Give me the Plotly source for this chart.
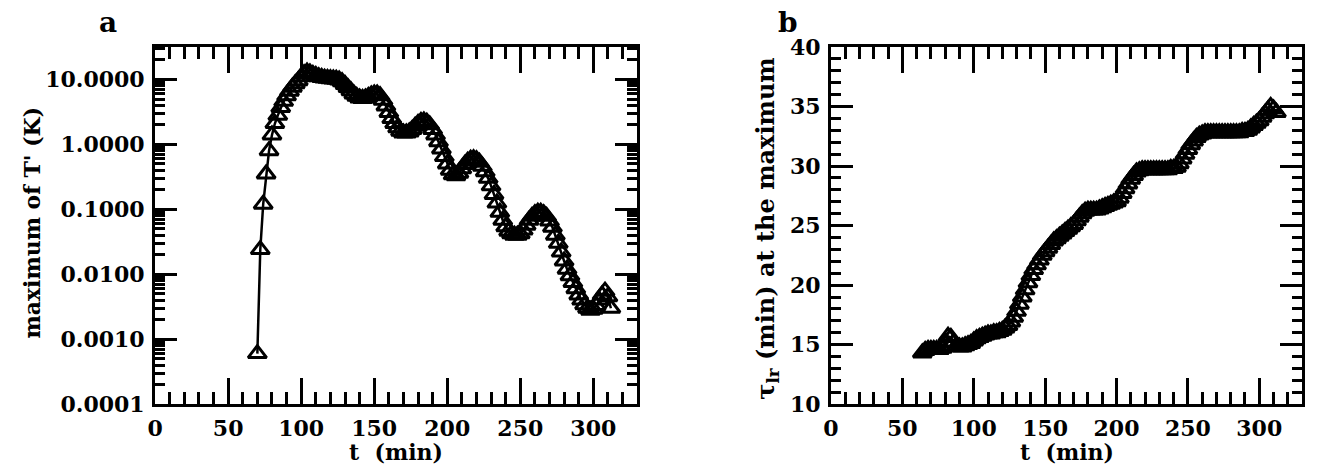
import plotly.graph_objects as go

# ---- Panel a data: maximum of T' (K) vs t (min) ----
t_a = [70, 72, 74, 76, 78, 80, 82, 84, 86, 88, 90, 92, 94, 96, 98, 100, 102, 104, 106, 108,
       110, 112, 114, 116, 118, 120, 122, 124, 126, 128, 130, 132, 134, 136, 138, 140, 142, 144,
       146, 148, 150, 152, 154, 156, 158, 160, 162, 164, 166, 168, 170, 172, 174, 176, 178, 180,
       182, 184, 186, 188, 190, 192, 194, 196, 198, 200, 202, 204, 206, 208, 210, 212, 214, 216,
       218, 220, 222, 224, 226, 228, 230, 232, 234, 236, 238, 240, 242, 244, 246, 248, 250, 252,
       254, 256, 258, 260, 262, 264, 266, 268, 270, 272, 274, 276, 278, 280, 282, 284, 286, 288,
       290, 292, 294, 296, 298, 300, 302, 304, 306, 308, 310, 312]
tmax_a = [0.0006, 0.024, 0.12, 0.35, 0.8, 1.4, 2.1, 2.8, 3.7, 4.6, 5.6, 6.6, 7.6, 8.6, 9.6, 11.0,
          12.3, 13.0, 12.6, 12.0, 11.5, 11.0, 10.7, 10.5, 10.4, 10.3, 10.2, 10.1, 9.8, 9.2, 8.4,
          7.5, 6.7, 6.0, 5.5, 5.2, 5.1, 5.2, 5.5, 5.8, 6.0, 6.0, 5.6, 4.8, 3.9, 3.1, 2.5, 2.1, 1.8,
          1.6, 1.5, 1.5, 1.55, 1.7, 1.9, 2.1, 2.25, 2.3, 2.2, 2.0, 1.7, 1.4, 1.1, 0.85, 0.65, 0.5,
          0.4, 0.34, 0.33, 0.36, 0.42, 0.49, 0.55, 0.59, 0.6, 0.58, 0.53, 0.46, 0.38, 0.3, 0.23,
          0.17, 0.125, 0.09, 0.068, 0.054, 0.046, 0.042, 0.04, 0.04, 0.042, 0.048, 0.057, 0.068,
          0.078, 0.086, 0.09, 0.09, 0.086, 0.078, 0.066, 0.053, 0.04, 0.03, 0.022, 0.016, 0.012,
          0.0095, 0.0075, 0.006, 0.0048, 0.004, 0.0034, 0.003, 0.0028, 0.0029, 0.0033, 0.004,
          0.0048, 0.0055, 0.0045, 0.003]

# ---- Panel b data: tau_lr (min) at the maximum vs t (min) ----
t_b = [64, 66, 68, 70, 72, 74, 76, 78, 80, 82, 84, 86, 88, 90, 92, 94, 96, 98, 100, 102, 104,
       106, 108, 110, 112, 114, 116, 118, 120, 122, 124, 126, 128, 130, 132, 134, 136, 138, 140,
       142, 144, 146, 148, 150, 152, 154, 156, 158, 160, 162, 164, 166, 168, 170, 172, 174, 176,
       178, 180, 182, 184, 186, 188, 190, 192, 194, 196, 198, 200, 202, 204, 206, 208, 210, 212,
       214, 216, 218, 220, 222, 224, 226, 228, 230, 232, 234, 236, 238, 240, 242, 244, 246, 248,
       250, 252, 254, 256, 258, 260, 262, 264, 266, 268, 270, 272, 274, 276, 278, 280, 282, 284,
       286, 288, 290, 292, 294, 296, 298, 300, 302, 304, 306, 308, 310, 312, 314]
tau_b = [14.3, 14.5, 14.6, 14.6, 14.6, 14.6, 14.6, 14.7, 15.2, 15.7, 15.6, 15.2, 14.9, 14.8,
         14.8, 14.9, 15.0, 15.1, 15.3, 15.5, 15.6, 15.7, 15.8, 15.9, 15.9, 16.0, 16.0, 16.1,
         16.2, 16.4, 16.6, 16.9, 17.3, 17.8, 18.4, 19.0, 19.6, 20.2, 20.8, 21.3, 21.7, 22.1,
         22.5, 22.8, 23.1, 23.4, 23.7, 23.9, 24.1, 24.3, 24.5, 24.7, 24.9, 25.1, 25.4, 25.7,
         26.0, 26.2, 26.3, 26.3, 26.3, 26.3, 26.4, 26.5, 26.6, 26.7, 26.8, 26.9, 27.0, 27.3,
         27.7, 28.1, 28.5, 28.9, 29.2, 29.5, 29.6, 29.7, 29.7, 29.7, 29.7, 29.7, 29.7, 29.7,
         29.7, 29.7, 29.7, 29.8, 29.8, 29.9, 30.2, 30.6, 31.0, 31.4, 31.8, 32.1, 32.4, 32.6,
         32.7, 32.8, 32.8, 32.8, 32.8, 32.8, 32.8, 32.8, 32.8, 32.8, 32.8, 32.8, 32.8, 32.8,
         32.9, 32.9, 33.0, 33.2, 33.4, 33.6, 33.8, 34.1, 34.4, 34.7, 35.0, 34.8, 34.5]

x_ticks = [0, 50, 100, 150, 200, 250, 300]
ya_ticks = [0.0001, 0.001, 0.01, 0.1, 1, 10]
ya_text = ["0.0001", "0.0010", "0.0100", "0.1000", "1.0000", "10.0000"]
yb_ticks = [10, 15, 20, 25, 30, 35, 40]

FONT = "DejaVu Serif"
W, H = 1317, 471

fig = go.Figure()
marker = dict(symbol="triangle-up-open", size=16, color="black", line=dict(width=3, color="black"))
fig.add_trace(go.Scatter(x=t_a, y=tmax_a, mode="lines+markers", marker=marker,
                         line=dict(color="black", width=2.5), xaxis="x", yaxis="y", showlegend=False))
fig.add_trace(go.Scatter(x=t_b, y=tau_b, mode="lines+markers", marker=marker,
                         line=dict(color="black", width=2.5), xaxis="x2", yaxis="y2", showlegend=False))
# empty traces so the overlay axes that carry the minor ticks get drawn
fig.add_trace(go.Scatter(x=[], y=[], mode="markers", xaxis="x3", yaxis="y3", showlegend=False,
                         hoverinfo="skip"))
fig.add_trace(go.Scatter(x=[], y=[], mode="markers", xaxis="x4", yaxis="y4", showlegend=False,
                         hoverinfo="skip"))

tickfont = dict(family=FONT, size=22, color="black", weight="bold")
xa_dom = [148 / W, 633 / W]
xb_dom = [828 / W, 1302 / W]
ytop = 1 - 36 / H
ybot = 1 - 414 / H
ydom = [ybot, ytop]

major_common = dict(ticks="inside", tickwidth=3, tickcolor="black", showline=True, linewidth=3,
                    linecolor="black", mirror="ticks", showgrid=False, zeroline=False,
                    tickfont=tickfont)
minor_common = dict(ticks="inside", tickwidth=3, tickcolor="black", showline=False,
                    mirror="ticks", showgrid=False, zeroline=False, showticklabels=False)

# minor tick positions for the log axis (2..9 in each decade)
ya_minor = [m * 10.0 ** e for e in range(-4, 1) for m in range(2, 10)] + [20.0, 30.0]

fig.update_layout(
    autosize=True, margin=dict(l=0, r=0, t=0, b=0),
    paper_bgcolor="white", plot_bgcolor="white",
    xaxis=dict(domain=xa_dom, anchor="y", range=[0, 330], tickvals=x_ticks, ticklen=26,
               ticklabelstandoff=2, **major_common),
    yaxis=dict(domain=ydom, anchor="x", type="log", range=[-4, 1.5], tickvals=ya_ticks,
               ticktext=ya_text, ticklen=22, ticklabelstandoff=3, **major_common),
    xaxis2=dict(domain=xb_dom, anchor="y2", range=[0, 330], tickvals=x_ticks, ticklen=26,
                ticklabelstandoff=2, **major_common),
    yaxis2=dict(domain=ydom, anchor="x2", range=[10, 40], tickvals=yb_ticks, ticklen=22,
                ticklabelstandoff=3, **major_common),
    xaxis3=dict(overlaying="x", anchor="y3", range=[0, 330], tickmode="linear", tick0=0,
                dtick=10, ticklen=12, **minor_common),
    yaxis3=dict(overlaying="y", anchor="x3", type="log", range=[-4, 1.5], tickvals=ya_minor,
                ticklen=10, **minor_common),
    xaxis4=dict(overlaying="x2", anchor="y4", range=[0, 330], tickmode="linear", tick0=0,
                dtick=10, ticklen=12, **minor_common),
    yaxis4=dict(overlaying="y2", anchor="x4", range=[10, 40], tickmode="linear", tick0=10,
                dtick=1, ticklen=10, **minor_common),
)

tfont = dict(family=FONT, size=22, color="black", weight="bold")
ann = [
    dict(text="a", x=101 / W, y=1 - 10 / H, font=dict(family=FONT, size=28, color="black", weight="bold")),
    dict(text="b", x=785 / W, y=1 - 10 / H, font=dict(family=FONT, size=28, color="black", weight="bold")),
    dict(text="t  (min)", x=390 / W, y=1 - 465 / H, font=tfont),
    dict(text="t  (min)", x=1065 / W, y=1 - 465 / H, font=tfont),
    dict(text="maximum of T' (K)", x=24 / W, y=1 - 222 / H, textangle=-90, font=tfont),
    dict(text="τ<sub>lr</sub> (min) at the maximum", x=764 / W, y=1 - 228 / H, textangle=-90,
         font=dict(family=FONT, size=24, color="black", weight="bold")),
]
for a in ann:
    a.update(xref="paper", yref="paper", showarrow=False, xanchor="center", yanchor="middle")
fig.update_layout(annotations=ann)

post = ("document.documentElement.style.margin='0';document.documentElement.style.overflow='hidden';"
        "document.body.style.margin='0';document.body.style.overflow='hidden';"
        "var gd=document.getElementById('{plot_id}');gd.style.width='100vw';gd.style.height='100vh';"
        "Plotly.Plots.resize(gd);")
fig.write_html("out.html", config={"displayModeBar": False, "responsive": True},
               default_width="100vw", default_height="100vh", post_script=post)
